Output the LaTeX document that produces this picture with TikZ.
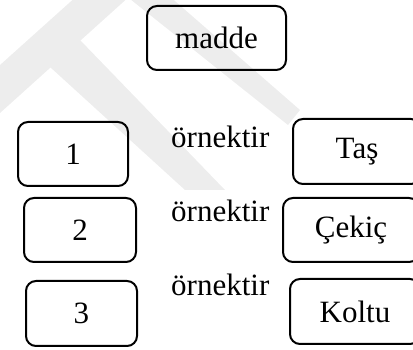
\documentclass[tikz,border=0pt]{standalone}
\usepackage{fontspec}
\setmainfont{Liberation Serif}
\definecolor{markgray}{RGB}{237,237,237}
\tikzset{
  box/.style={draw, line width=2pt, rounded corners=10pt, inner sep=0pt,
    font=\fontsize{31}{36}\selectfont},
  verb/.style={inner sep=0pt, anchor=base west, font=\fontsize{31}{36}\selectfont},
  mark/.style={fill=markgray, draw=none}
}
\begin{document}
\begin{tikzpicture}[x=1pt,y=-1pt]
  \useasboundingbox (0,0) rectangle (413,350);
  \clip (0,0) rectangle (413,350);
  % faint background emblem
  \fill[markgray] (-10,74) -- (-10,122) -- (131,-5) -- (78,-5) -- cycle;
  \fill[markgray] (50,67) -- (80,40) -- (225,190) -- (185,190) -- cycle;
  \fill[markgray] (125,-5) -- (168,-5) -- (300,110) -- (288,125) -- cycle;
  % concept box
  \node[box, minimum width=139pt, minimum height=64pt] (madde) at (216.5,38) {madde};
  % numbered boxes
  \node[box, minimum width=110pt, minimum height=64pt] (n1) at (73,154) {1};
  \node[box, minimum width=112pt, minimum height=64pt] (n2) at (80,230) {2};
  \node[box, minimum width=111pt, minimum height=65pt] (n3) at (81.5,313.5) {3};
  % example boxes
  \node[box, minimum width=128pt, minimum height=65pt] (tas) at (357,151.5) {Taş};
  \node[box, minimum width=136pt, minimum height=64pt] (cekic) at (351,230) {Çekiç};
  \node[box, minimum width=130pt, minimum height=65pt] (koltu) at (355,311.5) {Koltu};
  % relation words
  \node[verb] (r1) at (171,148) {örnektir};
  \node[verb] (r2) at (171,222) {örnektir};
  \node[verb] (r3) at (171,296) {örnektir};
\end{tikzpicture}
\end{document}
